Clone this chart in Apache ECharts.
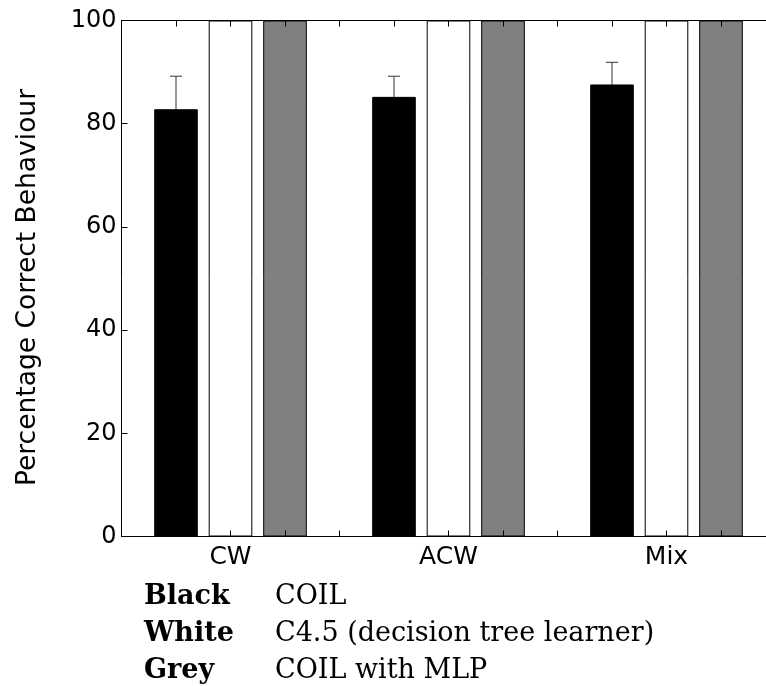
<!DOCTYPE html>
<html>
<head>
<meta charset="utf-8">
<script src="https://cdn.jsdelivr.net/npm/echarts@6/dist/echarts.min.js"></script>
<style>
html,body{margin:0;padding:0;background:#fff;}
#chart{width:766px;height:686px;}
</style>
</head>
<body>
<div id="chart"></div>
<script>
// Data
var categories = ['CW', 'ACW', 'Mix'];
var categoryPositions = [2, 6, 10];
var coilPositions = [1, 5, 9];
var c45Positions = [2, 6, 10];
var mlpPositions = [3, 7, 11];
var coilValues = [82.8, 85.2, 87.6];
var coilErrors = [6.4, 4.0, 4.3];
var c45Values = [100, 100, 100];
var mlpValues = [100, 100, 100];
var yTicks = [0, 20, 40, 60, 80, 100];
var legendKeys = ['Black', 'White', 'Grey'];
var legendNames = ['COIL', 'C4.5 (decision tree learner)', 'COIL with MLP'];

function pairs(xs, ys) { return xs.map(function (x, i) { return [x, ys[i]]; }); }

var chart = echarts.init(document.getElementById('chart'), null, {renderer: 'canvas'});
var sansFont = '"DejaVu Sans", "Liberation Sans", Arial, sans-serif';
var serifFont = '"DejaVu Serif", "Liberation Serif", serif';
var gridLeft = 121.5;
var unitPx = 54.5;
var xMax = (766 - gridLeft) / unitPx; // axis continues beyond the visible frame
var barW = 0.8 * unitPx;

var legendGraphics = [];
var legendTop = [583, 620, 657];
legendKeys.forEach(function (k, i) {
  legendGraphics.push({
    type: 'text', left: 144, top: legendTop[i],
    style: {text: k, font: 'bold 27px ' + serifFont, fill: '#000'}
  });
  legendGraphics.push({
    type: 'text', left: 275, top: legendTop[i],
    style: {text: legendNames[i], font: '27px ' + serifFont, fill: '#000'}
  });
});

var axisLineStyle = {color: '#000', width: 1};
var option = {
  animation: false,
  backgroundColor: '#fff',
  grid: {left: gridLeft, top: 20.5, right: 0, height: 516, containLabel: false},
  xAxis: [{
    type: 'value', min: 0, max: xMax, interval: 1, position: 'bottom', z: 10,
    axisLine: {show: true, lineStyle: axisLineStyle},
    axisTick: {show: true, inside: true, length: 6, lineStyle: {color: '#000'}},
    splitLine: {show: false},
    axisLabel: {
      show: true, margin: 8, fontSize: 25, fontFamily: sansFont, color: '#000',
      showMaxLabel: false,
      formatter: function (v) {
        var idx = categoryPositions.indexOf(v);
        return idx >= 0 ? categories[idx] : '';
      }
    }
  }, {
    type: 'value', min: 0, max: xMax, interval: 1, position: 'top', z: 10,
    axisLine: {show: true, lineStyle: axisLineStyle},
    axisTick: {show: true, inside: true, length: 6, lineStyle: {color: '#000'}},
    splitLine: {show: false},
    axisLabel: {show: false}
  }],
  yAxis: {
    type: 'value', min: 0, max: 100, interval: 20, z: 10,
    name: 'Percentage Correct Behaviour', nameLocation: 'middle', nameGap: 80, nameRotate: 90,
    nameTextStyle: {fontSize: 26.5, fontFamily: sansFont, color: '#000', padding: [0, 18, 0, 0]},
    axisLine: {show: true, lineStyle: axisLineStyle},
    axisTick: {show: true, inside: true, length: 6, lineStyle: {color: '#000'}},
    splitLine: {show: false},
    axisLabel: {
      margin: 5, fontSize: 24, fontFamily: sansFont, color: '#000',
      formatter: function (v) { return yTicks.indexOf(v) >= 0 ? String(v) : ''; }
    }
  },
  graphic: legendGraphics,
  series: [{
    name: 'COIL', type: 'bar', xAxisIndex: 0, barWidth: barW, barGap: '-100%', z: 2,
    itemStyle: {color: '#000', borderColor: '#000', borderWidth: 1},
    data: pairs(coilPositions, coilValues)
  }, {
    name: 'C4.5', type: 'bar', xAxisIndex: 0, barWidth: barW, barGap: '-100%', z: 2,
    itemStyle: {color: '#fff', borderColor: '#000', borderWidth: 1},
    data: pairs(c45Positions, c45Values)
  }, {
    name: 'COIL with MLP', type: 'bar', xAxisIndex: 0, barWidth: barW, barGap: '-100%', z: 2,
    itemStyle: {color: '#808080', borderColor: '#000', borderWidth: 1},
    data: pairs(mlpPositions, mlpValues)
  }, {
    name: 'error', type: 'custom', xAxisIndex: 0, z: 1,
    data: coilPositions.map(function (x, i) {
      return [x, coilValues[i] - coilErrors[i], coilValues[i] + coilErrors[i]];
    }),
    renderItem: function (params, api) {
      var x = api.value(0);
      var lo = api.coord([x, api.value(1)]);
      var hi = api.coord([x, api.value(2)]);
      var hw = 6;
      var st = {stroke: '#333', lineWidth: 1};
      return {
        type: 'group',
        children: [
          {type: 'line', shape: {x1: hi[0], y1: hi[1], x2: lo[0], y2: lo[1]}, style: st},
          {type: 'line', shape: {x1: hi[0] - hw, y1: hi[1], x2: hi[0] + hw, y2: hi[1]}, style: st},
          {type: 'line', shape: {x1: lo[0] - hw, y1: lo[1], x2: lo[0] + hw, y2: lo[1]}, style: st}
        ]
      };
    }
  }]
};
chart.setOption(option);
</script>
</body>
</html>
